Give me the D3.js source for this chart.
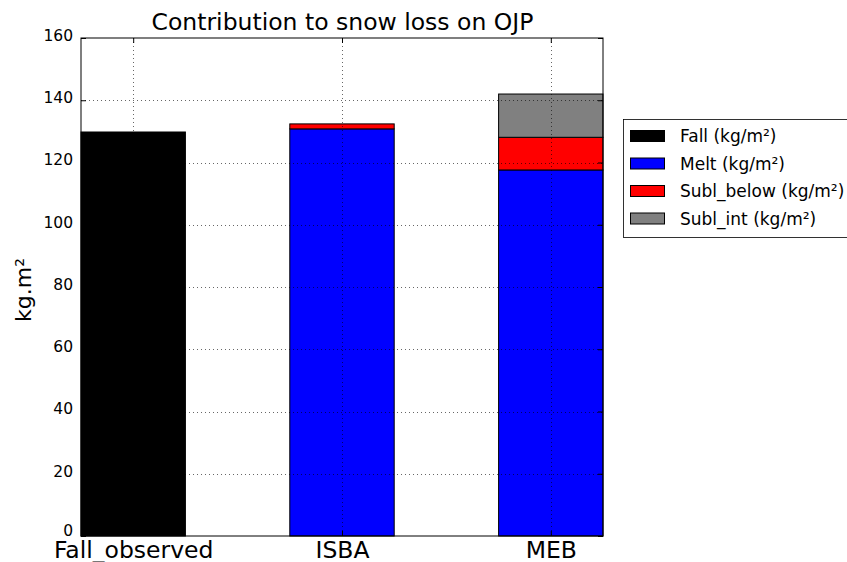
<!DOCTYPE html>
<html><head><meta charset="utf-8">
<script src="https://cdn.jsdelivr.net/npm/d3@7"></script>
<style>body{margin:0;background:#fff}svg{font-family:"DejaVu Sans",sans-serif}</style>
</head><body><svg id="c" width="847" height="562"></svg>
<script>
const categories = ["Fall_observed", "ISBA", "MEB"];
const seriesNames = ["Fall (kg/m²)", "Melt (kg/m²)", "Subl_below (kg/m²)", "Subl_int (kg/m²)"];
const seriesColors = ["#000000", "#0000ff", "#ff0000", "#808080"];
const fallValues = [129.8, 0, 0];
const meltValues = [0, 130.8, 117.6];
const sublBelowValues = [0, 1.6, 10.5];
const sublIntValues = [0, 0, 13.9];
const yTicks = [0, 20, 40, 60, 80, 100, 120, 140, 160];

const svg = d3.select("#c");
const L = 81, R = 603, T = 38, B = 536;
const x = d3.scaleLinear().domain([-0.25, 2.25]).range([L, R]);
const y = d3.scaleLinear().domain([0, 160]).range([B, T]);
const barW = 0.5;

const series = [fallValues, meltValues, sublBelowValues, sublIntValues];
categories.forEach((c, i) => {
  let base = 0;
  series.forEach((s, k) => {
    const v = s[i];
    if (v > 0) {
      svg.append("rect")
        .attr("x", x(i - barW / 2)).attr("width", x(i + barW / 2) - x(i - barW / 2))
        .attr("y", y(base + v)).attr("height", y(base) - y(base + v))
        .attr("fill", seriesColors[k]).attr("stroke", "#000").attr("stroke-width", 1);
      base += v;
    }
  });
});

// grid on top
const g = svg.append("g");
yTicks.forEach(t => {
  if (t === 0 || t === 160) return;
  g.append("line").attr("x1", L).attr("x2", R).attr("y1", Math.round(y(t)) + 0.5).attr("y2", Math.round(y(t)) + 0.5)
    .attr("stroke", "#000").attr("stroke-width", 0.6).attr("stroke-dasharray", "1,3");
});
categories.forEach((c, i) => {
  g.append("line").attr("y1", T).attr("y2", B).attr("x1", Math.round(x(i)) + 0.5).attr("x2", Math.round(x(i)) + 0.5)
    .attr("stroke", "#000").attr("stroke-width", 0.6).attr("stroke-dasharray", "1,3");
});

// frame
svg.append("rect").attr("x", L).attr("y", T).attr("width", R - L).attr("height", B - T)
  .attr("fill", "none").attr("stroke", "#000").attr("stroke-width", 1);

// y axis
const ya = svg.append("g").attr("transform", `translate(${L},0)`)
  .call(d3.axisLeft(y).tickValues(yTicks).tickSize(-5).tickPadding(8));
ya.select(".domain").remove();
ya.selectAll("text").attr("font-size", 15.5).attr("font-family", "DejaVu Sans").attr("fill", "#000")
  .attr("y", d => d === 0 ? -5.5 : -2.5);
const ya2 = svg.append("g").attr("transform", `translate(${R},0)`)
  .call(d3.axisRight(y).tickValues(yTicks).tickSize(-5).tickFormat(""));
ya2.select(".domain").remove();

// x axis
const xa = svg.append("g").attr("transform", `translate(0,${B})`)
  .call(d3.axisBottom(x).tickValues([0, 1, 2]).tickFormat(i => categories[i]).tickSize(-5));
xa.select(".domain").remove();
xa.selectAll("text").attr("font-size", 23.5).attr("font-family", "DejaVu Sans").attr("fill", "#000")
  .attr("dy", null).attr("y", 21.5);
const xa2 = svg.append("g").attr("transform", `translate(0,${T})`)
  .call(d3.axisTop(x).tickValues([0, 1, 2]).tickSize(-5).tickFormat(""));
xa2.select(".domain").remove();

// title
svg.append("text").attr("x", (L + R) / 2 + 0.5).attr("y", 30).attr("text-anchor", "middle")
  .attr("font-size", 23.5).text("Contribution to snow loss on OJP");
// y label
svg.append("text").attr("transform", `translate(31,290) rotate(-90)`).attr("text-anchor", "middle")
  .attr("font-size", 22).text("kg.m²");

// legend
const lg = svg.append("g");
lg.append("rect").attr("x", 623.5).attr("y", 119.5).attr("width", 240).attr("height", 118)
  .attr("fill", "#fff").attr("stroke", "#000").attr("stroke-width", 0.8);
seriesNames.forEach((n, k) => {
  const cy = 136 + k * 27.5;
  lg.append("rect").attr("x", 630.5).attr("y", cy - 5.5).attr("width", 34).attr("height", 11)
    .attr("fill", seriesColors[k]).attr("stroke", "#000").attr("stroke-width", 1);
  lg.append("text").attr("x", 680).attr("y", cy + 6).attr("font-size", 17).text(n);
});
</script></body></html>
